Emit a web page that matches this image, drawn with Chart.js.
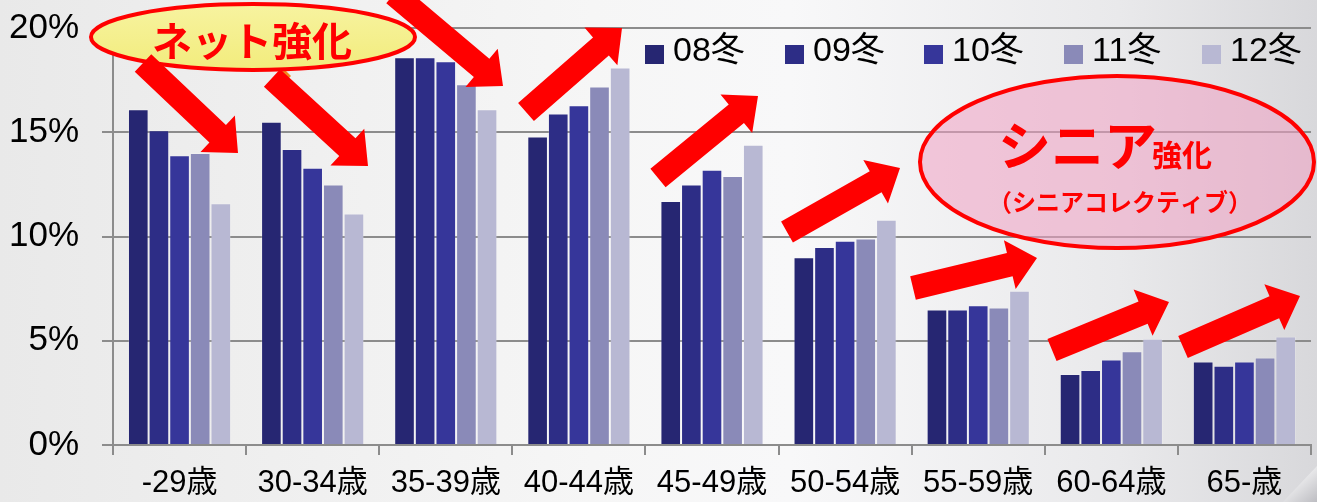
<!DOCTYPE html>
<html>
<head>
<meta charset="utf-8">
<script src="https://cdn.jsdelivr.net/npm/chart.js@4/dist/chart.umd.min.js"></script>
<style>
  html, body { margin: 0; padding: 0; background: #eeeeee; }
  #wrap { width: 1317px; height: 502px; }
</style>
</head>
<body>
<div id="wrap"><canvas id="chart" width="1317" height="502"></canvas></div>
<script>
// age groups
const categories = ['-29歳', '30-34歳', '35-39歳', '40-44歳', '45-49歳', '50-54歳', '55-59歳', '60-64歳', '65-歳'];
const seriesNames = ['08冬', '09冬', '10冬', '11冬', '12冬'];
const seriesColors = ['#262672', '#2d2d86', '#36369a', '#8a8ab8', '#b8b8d3'];

// share by age group (%)
const w08 = [16.1, 15.5, 18.6, 14.8, 11.7, 9.0, 6.5, 3.4, 4.0];
const w09 = [15.1, 14.2, 18.6, 15.9, 12.5, 9.5, 6.5, 3.6, 3.8];
const w10 = [13.9, 13.3, 18.4, 16.3, 13.2, 9.8, 6.7, 4.1, 4.0];
const w11 = [14.0, 12.5, 17.3, 17.2, 12.9, 9.9, 6.6, 4.5, 4.2];
const w12 = [11.6, 11.1, 16.1, 18.1, 14.4, 10.8, 7.4, 5.1, 5.2];

const yTicks = [0, 5, 10, 15, 20];

const FONT = "'Liberation Sans', Arial, 'Noto Sans CJK JP', sans-serif";
const JP = "'Noto Sans CJK JP', sans-serif";

const values = [w08, w09, w10, w11, w12];

// callouts drawn on top (pixel positions on the 1317x502 canvas)
const arrows = [
  [143, 63, 238, 153],
  [272, 78, 368, 166],
  [394, -6, 503, 86],
  [526, 112, 622, 28],
  [658, 178, 758, 96],
  [787, 232, 900, 168],
  [913, 288, 1037, 258],
  [1052, 350, 1169, 302],
  [1183, 347, 1300, 296]
];

function arrow(ctx, x1, y1, x2, y2) {
  const shaft = 12, head = 25, headLen = 28;
  const a = Math.atan2(y2 - y1, x2 - x1);
  const len = Math.hypot(x2 - x1, y2 - y1);
  ctx.save();
  ctx.translate(x1, y1);
  ctx.rotate(a);
  ctx.beginPath();
  ctx.moveTo(0, -shaft);
  ctx.lineTo(len - headLen, -shaft);
  ctx.lineTo(len - headLen, -head);
  ctx.lineTo(len, 0);
  ctx.lineTo(len - headLen, head);
  ctx.lineTo(len - headLen, shaft);
  ctx.lineTo(0, shaft);
  ctx.closePath();
  ctx.fillStyle = '#ff0000';
  ctx.fill();
  ctx.restore();
}

function diamond(ctx, x, y, r) {
  ctx.beginPath();
  ctx.moveTo(x, y - r);
  ctx.lineTo(x + r, y);
  ctx.lineTo(x, y + r);
  ctx.lineTo(x - r, y);
  ctx.closePath();
  ctx.fillStyle = '#f08a1c';
  ctx.fill();
}

const backdrop = {
  id: 'backdrop',
  beforeDraw(chart) {
    const ctx = chart.ctx;
    const W = chart.width, H = chart.height;
    const g = ctx.createLinearGradient(0, 0, W, 0);
    g.addColorStop(0, '#e9e9e9');
    g.addColorStop(0.45, '#f6f6f6');
    g.addColorStop(0.6, '#f8f8f9');
    g.addColorStop(0.85, '#e9e9eb');
    g.addColorStop(1, '#d8d8db');
    ctx.save();
    ctx.fillStyle = g;
    ctx.fillRect(0, 0, W, H);
    ctx.restore();
  }
};

const callouts = {
  id: 'callouts',
  afterDraw(chart) {
    const ctx = chart.ctx;
    ctx.save();

    // pink ellipse
    ctx.beginPath();
    ctx.ellipse(1117, 162, 197, 86, 0, 0, Math.PI * 2);
    ctx.fillStyle = 'rgba(240, 160, 195, 0.55)';
    ctx.fill();
    ctx.lineWidth = 4;
    ctx.strokeStyle = '#ff0000';
    ctx.stroke();

    diamond(ctx, 153, 64, 8);
    diamond(ctx, 283, 76, 8);

    // yellow ellipse
    ctx.beginPath();
    ctx.ellipse(253, 37, 162, 33, 0, 0, Math.PI * 2);
    const yg = ctx.createLinearGradient(0, 4, 0, 70);
    yg.addColorStop(0, '#f7f3a0');
    yg.addColorStop(1, '#f2ec7c');
    ctx.fillStyle = yg;
    ctx.fill();
    ctx.lineWidth = 4;
    ctx.strokeStyle = '#ff0000';
    ctx.stroke();

    arrows.forEach(a => arrow(ctx, a[0], a[1], a[2], a[3]));

    ctx.fillStyle = '#ff0000';
    ctx.textBaseline = 'middle';
    ctx.textAlign = 'center';
    ctx.font = 'bold 40px ' + JP;
    ctx.fillText('ネット強化', 252, 41);

    ctx.textAlign = 'left';
    ctx.font = 'bold 53px ' + JP;
    ctx.fillText('シニア', 998, 146);
    ctx.font = 'bold 30px ' + JP;
    ctx.fillText('強化', 1152, 155);
    ctx.font = 'bold 24px ' + JP;
    ctx.textAlign = 'center';
    ctx.fillText('（シニアコレクティブ）', 1120, 202);

    // legend
    const lx = [645, 785, 924, 1064, 1202];
    ctx.textAlign = 'left';
    ctx.font = '34px ' + FONT;
    chart.data.datasets.forEach((ds, i) => {
      ctx.fillStyle = ds.backgroundColor;
      ctx.fillRect(lx[i], 45, 19, 19);
      ctx.fillStyle = '#000';
      ctx.fillText(ds.label, lx[i] + 28, 52);
    });

    // page curl bottom right
    ctx.beginPath();
    ctx.moveTo(1283, 502);
    ctx.lineTo(1317, 466);
    ctx.lineTo(1317, 502);
    ctx.closePath();
    const cg = ctx.createLinearGradient(1290, 470, 1317, 502);
    cg.addColorStop(0, '#ffffff');
    cg.addColorStop(1, '#bdbdc2');
    ctx.fillStyle = cg;
    ctx.fill();
    ctx.restore();
  }
};

new Chart(document.getElementById('chart'), {
  type: 'bar',
  data: {
    labels: categories,
    datasets: seriesNames.map((name, i) => ({
      label: name,
      data: values[i],
      backgroundColor: seriesColors[i],
      borderColor: 'rgba(255,255,255,0.18)',
      borderWidth: 1,
      categoryPercentage: 0.775,
      barPercentage: 1.0
    }))
  },
  options: {
    responsive: false,
    animation: false,
    layout: { padding: { top: 0, right: 6, left: 0, bottom: 0 } },
    plugins: {
      legend: { display: false },
      tooltip: { enabled: false }
    },
    scales: {
      x: {
        offset: true,
        grid: {
          offset: true,
          drawOnChartArea: false,
          color: '#8c8c8c',
          lineWidth: 2,
          tickLength: 10
        },
        border: { color: '#8c8c8c', width: 2 },
        ticks: {
          color: '#000',
          font: { family: FONT, size: 31 },
          padding: 10,
          maxRotation: 0,
          autoSkip: false
        },
        afterFit(scale) { scale.height = 57; }
      },
      y: {
        min: 0,
        max: 20,
        afterBuildTicks(scale) { scale.ticks = yTicks.map(v => ({ value: v })); },
        grid: {
          color: '#8c8c8c',
          lineWidth: 2,
          tickLength: 11
        },
        border: { color: '#8c8c8c', width: 2 },
        ticks: {
          color: '#000',
          font: { family: FONT, size: 35 },
          padding: 23,
          callback: v => v + '%'
        },
        afterFit(scale) {
          scale.width = 113;
          scale.paddingTop = 28;
          scale.paddingBottom = 0;
        }
      }
    }
  },
  plugins: [backdrop, callouts]
});
</script>
</body>
</html>
